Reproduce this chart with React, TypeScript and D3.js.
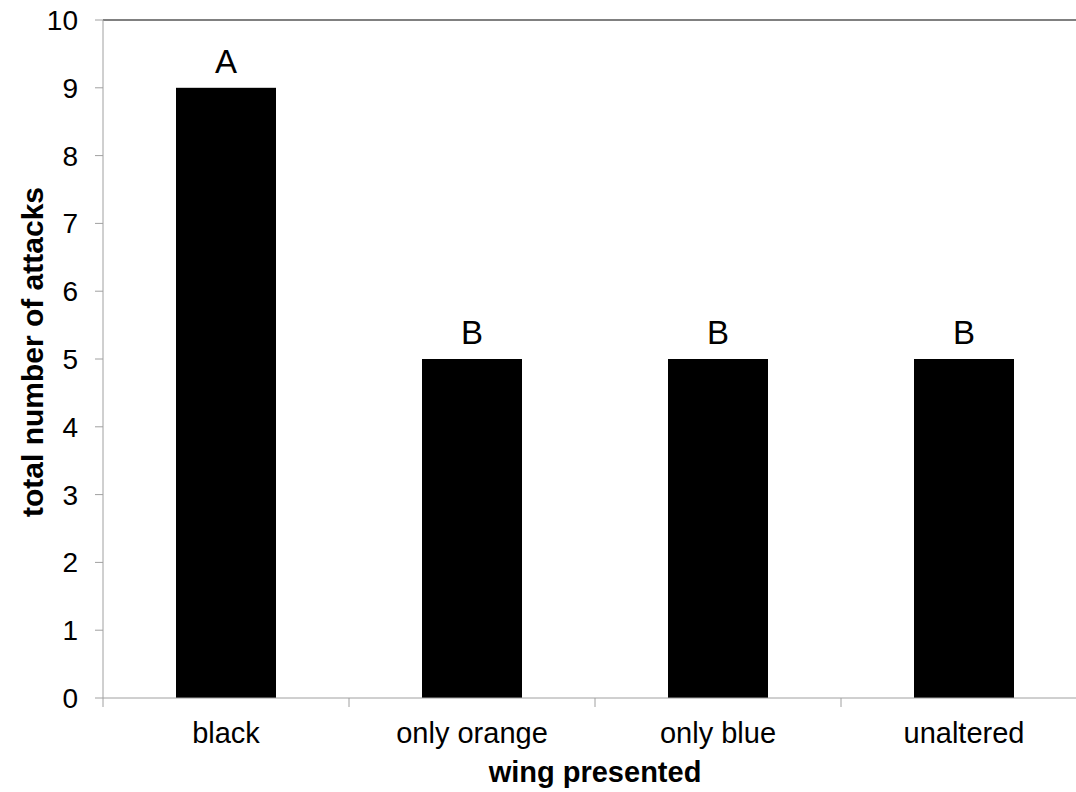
import React from "react";
import * as d3 from "d3";

const categories = ["black", "only orange", "only blue", "unaltered"];
const attacks = [9, 5, 5, 5];
const letters = ["A", "B", "B", "B"];
const yTicks = [0, 1, 2, 3, 4, 5, 6, 7, 8, 9, 10];

const W = 1076;
const H = 792;
const left = 103;
const top = 20;
const bottom = 698;
const bandW = 246;

const App = () => {
  const x = d3
    .scaleBand<string>()
    .domain(categories)
    .range([left, left + bandW * categories.length])
    .paddingInner(0)
    .paddingOuter(0);
  const y = d3.scaleLinear().domain([0, 10]).range([bottom, top]);
  const barW = 100;
  const font = "'Liberation Sans', Arial, sans-serif";
  const plotMid = (left + left + bandW * categories.length) / 2;

  return (
    <svg width={W} height={H} style={{ display: "block", position: "absolute", left: 0, top: 0 }}>
      <rect width={W} height={H} fill="#fff" />
      {/* top border */}
      <line x1={left} x2={W} y1={top} y2={top} stroke="#808080" strokeWidth={2} />
      {/* y axis */}
      <line x1={left} x2={left} y1={top} y2={bottom} stroke="#a0a0a0" strokeWidth={1} />
      {yTicks.map((t) => (
        <g key={t}>
          <line x1={left - 8} x2={left} y1={y(t)} y2={y(t)} stroke="#a0a0a0" />
          <text
            x={78}
            y={y(t)}
            dy="0.36em"
            textAnchor="end"
            fontFamily={font}
            fontSize={28}
            fill="#000"
          >
            {t}
          </text>
        </g>
      ))}
      {/* bars */}
      {categories.map((c, i) => {
        const cx = x(c)! + x.bandwidth() / 2;
        return (
          <g key={c}>
            <rect x={cx - barW / 2} y={y(attacks[i])} width={barW} height={bottom - y(attacks[i])} fill="#000" />
            <text
              x={cx}
              y={y(attacks[i]) - 15}
              textAnchor="middle"
              fontFamily={font}
              fontSize={33}
              fill="#000"
            >
              {letters[i]}
            </text>
            <text x={cx} y={743} textAnchor="middle" fontFamily={font} fontSize={29} fill="#000">
              {c}
            </text>
          </g>
        );
      })}
      {/* x axis */}
      <line x1={left} x2={W} y1={bottom} y2={bottom} stroke="#a0a0a0" strokeWidth={1} />
      {categories.map((c) => (
        <line key={c} x1={x(c)!} x2={x(c)!} y1={bottom} y2={bottom + 9} stroke="#a0a0a0" />
      ))}
      <text x={plotMid} y={782} textAnchor="middle" fontFamily={font} fontSize={29} fontWeight="bold" fill="#000">
        wing presented
      </text>
      <text
        transform={`translate(43, 352) rotate(-90)`}
        textAnchor="middle"
        fontFamily={font}
        fontSize={30}
        fontWeight="bold"
        fill="#000"
      >
        total number of attacks
      </text>
    </svg>
  );
};

export default App;
